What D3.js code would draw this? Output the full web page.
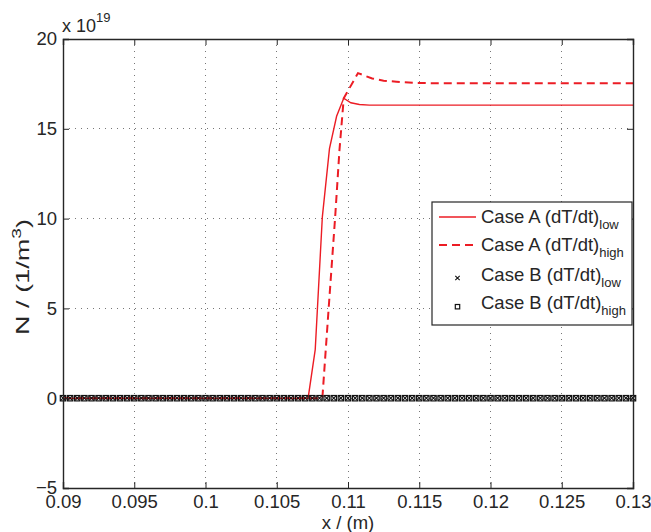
<!DOCTYPE html>
<html>
<head>
<meta charset="utf-8">
<script src="https://cdn.jsdelivr.net/npm/d3@7"></script>
<style>
  body { margin: 0; background: #fff; }
  svg { font-family: "Liberation Sans", Arial, Helvetica, sans-serif; }
</style>
</head>
<body>
<svg id="chart" width="651" height="532"></svg>
<script>
// ----------------------------------------------------------------------------
// Data (N in units of 1e19 1/m^3)
// ----------------------------------------------------------------------------

// Case A, low heating rate (solid red)
var caseALowX = [0.09, 0.1072, 0.1077, 0.1082, 0.1087, 0.1092, 0.1097, 0.1102, 0.1108, 0.1115, 0.12, 0.13];
var caseALowY = [0, 0, 2.7, 10.1, 13.9, 15.7, 16.7, 16.45, 16.35, 16.32, 16.32, 16.32];

// Case A, high heating rate (dashed red)
var caseAHighX = [0.09, 0.1082, 0.1087, 0.1091, 0.1094, 0.1097, 0.1107, 0.1117, 0.1125, 0.1134, 0.1146, 0.1160, 0.12, 0.13];
var caseAHighY = [0, 0, 5.65, 10.1, 13.8, 16.7, 18.1, 17.8, 17.68, 17.62, 17.56, 17.54, 17.54, 17.54];

// Case B, both heating rates: all zero on a regular 0.0005 m grid
var caseBX = [
  0.09, 0.0905, 0.091, 0.0915, 0.092, 0.0925, 0.093, 0.0935, 0.094, 0.0945,
  0.095, 0.0955, 0.096, 0.0965, 0.097, 0.0975, 0.098, 0.0985, 0.099, 0.0995,
  0.1, 0.1005, 0.101, 0.1015, 0.102, 0.1025, 0.103, 0.1035, 0.104, 0.1045,
  0.105, 0.1055, 0.106, 0.1065, 0.107, 0.1075, 0.108, 0.1085, 0.109, 0.1095,
  0.11, 0.1105, 0.111, 0.1115, 0.112, 0.1125, 0.113, 0.1135, 0.114, 0.1145,
  0.115, 0.1155, 0.116, 0.1165, 0.117, 0.1175, 0.118, 0.1185, 0.119, 0.1195,
  0.12, 0.1205, 0.121, 0.1215, 0.122, 0.1225, 0.123, 0.1235, 0.124, 0.1245,
  0.125, 0.1255, 0.126, 0.1265, 0.127, 0.1275, 0.128, 0.1285, 0.129, 0.1295, 0.13
];
var caseBLowY = caseBX.map(function() { return 0; });
var caseBHighY = caseBX.map(function() { return 0; });

// Ticks
var xTicks = [0.09, 0.095, 0.1, 0.105, 0.11, 0.115, 0.12, 0.125, 0.13];
var xTickLabels = ["0.09", "0.095", "0.1", "0.105", "0.11", "0.115", "0.12", "0.125", "0.13"];
var yTicks = [-5, 0, 5, 10, 15, 20];
var yTickLabels = ["\u22125", "0", "5", "10", "15", "20"];

var legendLabels = [
  { main: "Case A (dT/dt)", sub: "low" },
  { main: "Case A (dT/dt)", sub: "high" },
  { main: "Case B (dT/dt)", sub: "low" },
  { main: "Case B (dT/dt)", sub: "high" }
];

// ----------------------------------------------------------------------------
// Drawing
// ----------------------------------------------------------------------------

var red = "#ec1c24";
var ink = "#262626";
var plot = { left: 63, top: 39, width: 570, height: 449 };
var fontSize = 18.5;
var subSize = 13;

var svg = d3.select("#chart");

var x = d3.scaleLinear().domain([0.09, 0.13]).range([plot.left, plot.left + plot.width]);
var y = d3.scaleLinear().domain([-5, 20]).range([plot.top + plot.height, plot.top]);

// grid
var grid = svg.append("g").attr("class", "grid");
grid.selectAll("line.gx")
  .data(xTicks.slice(1, -1))
  .enter().append("line")
  .attr("x1", function(d) { return x(d); })
  .attr("x2", function(d) { return x(d); })
  .attr("y1", plot.top)
  .attr("y2", plot.top + plot.height);
grid.selectAll("line.gy")
  .data(yTicks.slice(1, -1))
  .enter().append("line")
  .attr("x1", plot.left)
  .attr("x2", plot.left + plot.width)
  .attr("y1", function(d) { return y(d); })
  .attr("y2", function(d) { return y(d); });
grid.selectAll("line")
  .attr("stroke", "#777")
  .attr("stroke-width", 1)
  .attr("stroke-dasharray", "1,5")
  .attr("shape-rendering", "crispEdges");

// lines
function makeLine(xs, ys) {
  return d3.line()
    .x(function(d, i) { return x(xs[i]); })
    .y(function(d, i) { return y(ys[i]); })(xs);
}

svg.append("path")
  .attr("d", makeLine(caseALowX, caseALowY))
  .attr("fill", "none")
  .attr("stroke", red)
  .attr("stroke-width", 1.4);

svg.append("path")
  .attr("d", makeLine(caseAHighX, caseAHighY))
  .attr("fill", "none")
  .attr("stroke", red)
  .attr("stroke-width", 2)
  .attr("stroke-dasharray", "8,5");

// markers
function crossPath(cx, cy, r) {
  return "M" + (cx - r) + "," + (cy - r) + "L" + (cx + r) + "," + (cy + r) +
         "M" + (cx - r) + "," + (cy + r) + "L" + (cx + r) + "," + (cy - r);
}

svg.append("g").selectAll("path")
  .data(caseBX)
  .enter().append("path")
  .attr("d", function(d, i) { return crossPath(x(d), y(caseBLowY[i]), 2.5); })
  .attr("stroke", "#111")
  .attr("stroke-width", 1.1);

svg.append("g").selectAll("rect")
  .data(caseBX)
  .enter().append("rect")
  .attr("x", function(d) { return x(d) - 2.7; })
  .attr("y", function(d, i) { return y(caseBHighY[i]) - 2.7; })
  .attr("width", 5.4)
  .attr("height", 5.4)
  .attr("fill", "none")
  .attr("stroke", "#111")
  .attr("stroke-width", 1.2);

// axes (MATLAB box style, inward ticks)
var tickLen = 6;
var axes = [
  svg.append("g").attr("transform", "translate(0," + (plot.top + plot.height) + ")")
    .call(d3.axisBottom(x).tickValues(xTicks).tickSize(-tickLen).tickPadding(7)
      .tickFormat(function(d, i) { return xTickLabels[i]; })),
  svg.append("g").attr("transform", "translate(0," + plot.top + ")")
    .call(d3.axisTop(x).tickValues(xTicks).tickSize(-tickLen).tickFormat("")),
  svg.append("g").attr("transform", "translate(" + plot.left + ",0)")
    .call(d3.axisLeft(y).tickValues(yTicks).tickSize(-tickLen).tickPadding(6)
      .tickFormat(function(d, i) { return yTickLabels[i]; })),
  svg.append("g").attr("transform", "translate(" + (plot.left + plot.width) + ",0)")
    .call(d3.axisRight(y).tickValues(yTicks).tickSize(-tickLen).tickFormat(""))
];
axes.forEach(function(a) {
  a.attr("font-family", null).attr("font-size", fontSize);
  a.selectAll("path.domain").attr("stroke", ink).attr("stroke-width", 1.4);
  a.selectAll(".tick line").attr("stroke", ink).attr("stroke-width", 1);
  a.selectAll(".tick text").attr("fill", ink);
});

// exponent label
var expo = svg.append("text")
  .attr("x", 62)
  .attr("y", 32)
  .attr("font-size", 18)
  .attr("fill", ink);
expo.append("tspan").text("x 10");
expo.append("tspan").attr("dy", -10).attr("font-size", subSize).text("19");

// axis titles
svg.append("text")
  .attr("x", plot.left + plot.width / 2)
  .attr("y", 529)
  .attr("text-anchor", "middle")
  .attr("font-size", fontSize)
  .attr("fill", ink)
  .text("x / (m)");

// y label is stretched along its run to fill the same span as the reference
var ylab = svg.append("text")
  .attr("text-anchor", "middle")
  .attr("font-size", fontSize)
  .attr("fill", ink);
ylab.append("tspan").text("N / (1/m");
ylab.append("tspan").attr("dy", -8).attr("font-size", subSize).text("3");
ylab.append("tspan").attr("dy", 8).text(")");
var ylabLen = ylab.node().getComputedTextLength();
var ylabScale = Math.max(1, 116 / ylabLen);
ylab.attr("transform", "translate(29,277) rotate(-90) scale(" + ylabScale + ",1)");

// legend
var legend = svg.append("g");
legend.append("rect")
  .attr("x", 432).attr("y", 202)
  .attr("width", 200).attr("height", 123)
  .attr("fill", "#fff")
  .attr("stroke", ink)
  .attr("stroke-width", 1.2);

var rowY = [217, 245, 275, 303];
legendLabels.forEach(function(lab, i) {
  var cy = rowY[i];
  if (i === 0) {
    legend.append("line").attr("x1", 439).attr("x2", 476).attr("y1", cy).attr("y2", cy)
      .attr("stroke", red).attr("stroke-width", 1.4);
  } else if (i === 1) {
    legend.append("line").attr("x1", 439).attr("x2", 476).attr("y1", cy).attr("y2", cy)
      .attr("stroke", red).attr("stroke-width", 2).attr("stroke-dasharray", "8,5");
  } else if (i === 2) {
    legend.append("path").attr("d", crossPath(457.5, cy + 3, 2.2))
      .attr("stroke", "#111").attr("stroke-width", 1.1);
  } else {
    legend.append("rect").attr("x", 455.3).attr("y", cy + 1.5).attr("width", 4.4).attr("height", 4.4)
      .attr("fill", "none").attr("stroke", "#111").attr("stroke-width", 1.2);
  }
  var t = legend.append("text")
    .attr("x", 481)
    .attr("y", cy + 6)
    .attr("font-size", fontSize)
    .attr("fill", ink);
  t.append("tspan").text(lab.main);
  t.append("tspan").attr("dy", 6).attr("font-size", subSize).text(lab.sub);
});
</script>
</body>
</html>
